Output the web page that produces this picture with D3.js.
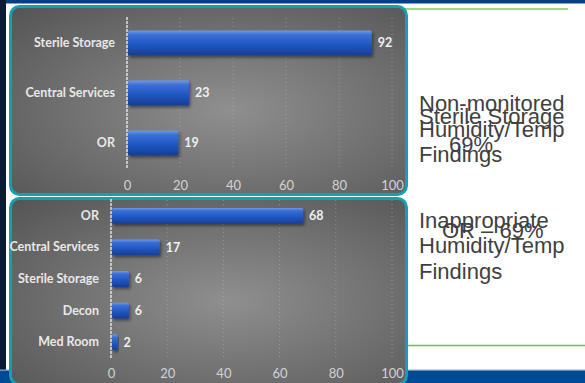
<!DOCTYPE html>
<html><head><meta charset="utf-8">
<script src="https://cdn.jsdelivr.net/npm/d3@7"></script>
<style>html,body{margin:0;padding:0;background:#fff;overflow:hidden}</style>
</head><body>
<svg id="c" width="585" height="383"></svg>
<script>
const topCategories = ["Sterile Storage", "Central Services", "OR"];
const topValues = [92, 23, 19];
const bottomCategories = ["OR", "Central Services", "Sterile Storage", "Decon", "Med Room"];
const bottomValues = [68, 17, 6, 6, 2];
const tickValues = [0, 20, 40, 60, 80, 100];
const topTextLines = ["Non-monitored", "Humidity/Temp", "Findings"];
const topOverlay = ["Sterile Storage", "69%"];
const bottomTextLines = ["Inappropriate", "Humidity/Temp", "Findings"];
const bottomOverlay = ["OR – 69%"];

const svg = d3.select("#c");
const defs = svg.append("defs");

const rg = defs.append("radialGradient").attr("id","panelBg").attr("cx","55%").attr("cy","55%").attr("r","75%");
rg.append("stop").attr("offset","0%").attr("stop-color","#8f8f8f");
rg.append("stop").attr("offset","100%").attr("stop-color","#565656");

const bg = defs.append("linearGradient").attr("id","barG").attr("x1",0).attr("y1",0).attr("x2",0).attr("y2",1);
bg.append("stop").attr("offset","0%").attr("stop-color","#6f9ae6");
bg.append("stop").attr("offset","18%").attr("stop-color","#3a6fd6");
bg.append("stop").attr("offset","60%").attr("stop-color","#1f55c0");
bg.append("stop").attr("offset","100%").attr("stop-color","#163e93");

const sh = defs.append("filter").attr("id","shadow").attr("x","-10%").attr("y","-30%").attr("width","130%").attr("height","170%");
sh.append("feDropShadow").attr("dx",1.5).attr("dy",2).attr("stdDeviation",1.5).attr("flood-color","#000").attr("flood-opacity",0.45);

// slide frame
svg.append("rect").attr("x",0).attr("y",0).attr("width",585).attr("height",383).attr("fill","#fff");
svg.append("rect").attr("x",0).attr("y",0).attr("width",585).attr("height",3.5).attr("fill","#083f84");
svg.append("rect").attr("x",0).attr("y",0).attr("width",6).attr("height",383).attr("fill","#0a1a33");
svg.append("rect").attr("x",0).attr("y",370).attr("width",585).attr("height",13).attr("fill","#004a94");
svg.append("rect").attr("x",0).attr("y",369.5).attr("width",585).attr("height",1.2).attr("fill","#8fb0d4");
svg.append("line").attr("x1",405).attr("x2",568).attr("y1",9).attr("y2",9).attr("stroke","#a3d48c").attr("stroke-width",2);
svg.append("line").attr("x1",405).attr("x2",585).attr("y1",345.5).attr("y2",345.5).attr("stroke","#7ab648").attr("stroke-width",1.3);

function panel(x,y,w,h){
  svg.append("rect").attr("x",x).attr("y",y).attr("width",w).attr("height",h).attr("rx",9)
    .attr("fill","url(#panelBg)").attr("stroke","#14a0b2").attr("stroke-width",3);
}
panel(10.5,6.5,396,188);
panel(10.5,198.5,396,186);

function chart(cats, vals, xr, yr, tickY){
  const x = d3.scaleLinear().domain([0,100]).range(xr);
  const y = d3.scaleBand().domain(cats).range(yr).paddingInner(0.5).paddingOuter(0.25);
  const g = svg.append("g");
  g.selectAll("line.grid").data(tickValues.slice(1)).join("line")
    .attr("x1",d=>x(d)).attr("x2",d=>x(d)).attr("y1",yr[0]).attr("y2",yr[1])
    .attr("stroke","#bdbdbd").attr("stroke-opacity",0.5).attr("stroke-dasharray","1,3");
  g.selectAll("rect.bar").data(vals).join("rect")
    .attr("x",x(0)+1).attr("y",(d,i)=>y(cats[i]))
    .attr("width",d=>x(d)-x(0)).attr("height",y.bandwidth())
    .attr("fill","url(#barG)").attr("rx",1.5).attr("filter","url(#shadow)");
  g.append("line").attr("x1",x(0)).attr("x2",x(0)).attr("y1",yr[0]-1).attr("y2",yr[1])
    .attr("stroke","#f2f2f2").attr("stroke-width",1.3).attr("stroke-dasharray","3,1");
  const ax = d3.axisLeft(y).tickSize(0).tickPadding(12);
  const ag = g.append("g").attr("transform",`translate(${x(0)},0)`).call(ax);
  ag.select(".domain").remove();
  ag.selectAll("text").attr("fill","#e8e8e8").attr("font-family","Lato, 'Liberation Sans', sans-serif")
    .attr("font-weight","700").attr("font-size","12.5px");
  g.selectAll("text.val").data(vals).join("text")
    .attr("x",d=>x(d)+7).attr("y",(d,i)=>y(cats[i])+y.bandwidth()/2).attr("dy","0.35em")
    .attr("fill","#f0f0f0").attr("font-family","Lato, 'Liberation Sans', sans-serif")
    .attr("font-weight","700").attr("font-size","12.5px").text(d=>d);
  const bx = d3.axisBottom(x).tickValues(tickValues).tickSize(0).tickPadding(0);
  const bgx = g.append("g").attr("transform",`translate(0,${tickY})`).call(bx);
  bgx.select(".domain").remove();
  bgx.selectAll("text").attr("fill","#d2d2d2").attr("font-family","Lato, 'Liberation Sans', sans-serif")
    .attr("font-size","13px").attr("dy","0");
}
chart(topCategories, topValues, [127,392], [18,168], 190);
chart(bottomCategories, bottomValues, [111,392], [200,358], 378);

const tf = "'Liberation Sans', Arial, sans-serif";
function lines(arr, x, ys){
  arr.forEach((t,i)=>svg.append("text").attr("x",x).attr("y",ys[i]).attr("font-family",tf)
    .attr("font-size","22px").attr("fill","#404040").text(t));
}
lines(topTextLines, 419, [111,137,162]);
lines(topOverlay, 419, [124,152]);
svg.selectAll("text").filter(function(){return d3.select(this).text()==="69%";}).attr("x",449);
lines(bottomTextLines, 419, [228,253,279]);
lines(bottomOverlay, 442, [238]);
</script>
</body></html>
